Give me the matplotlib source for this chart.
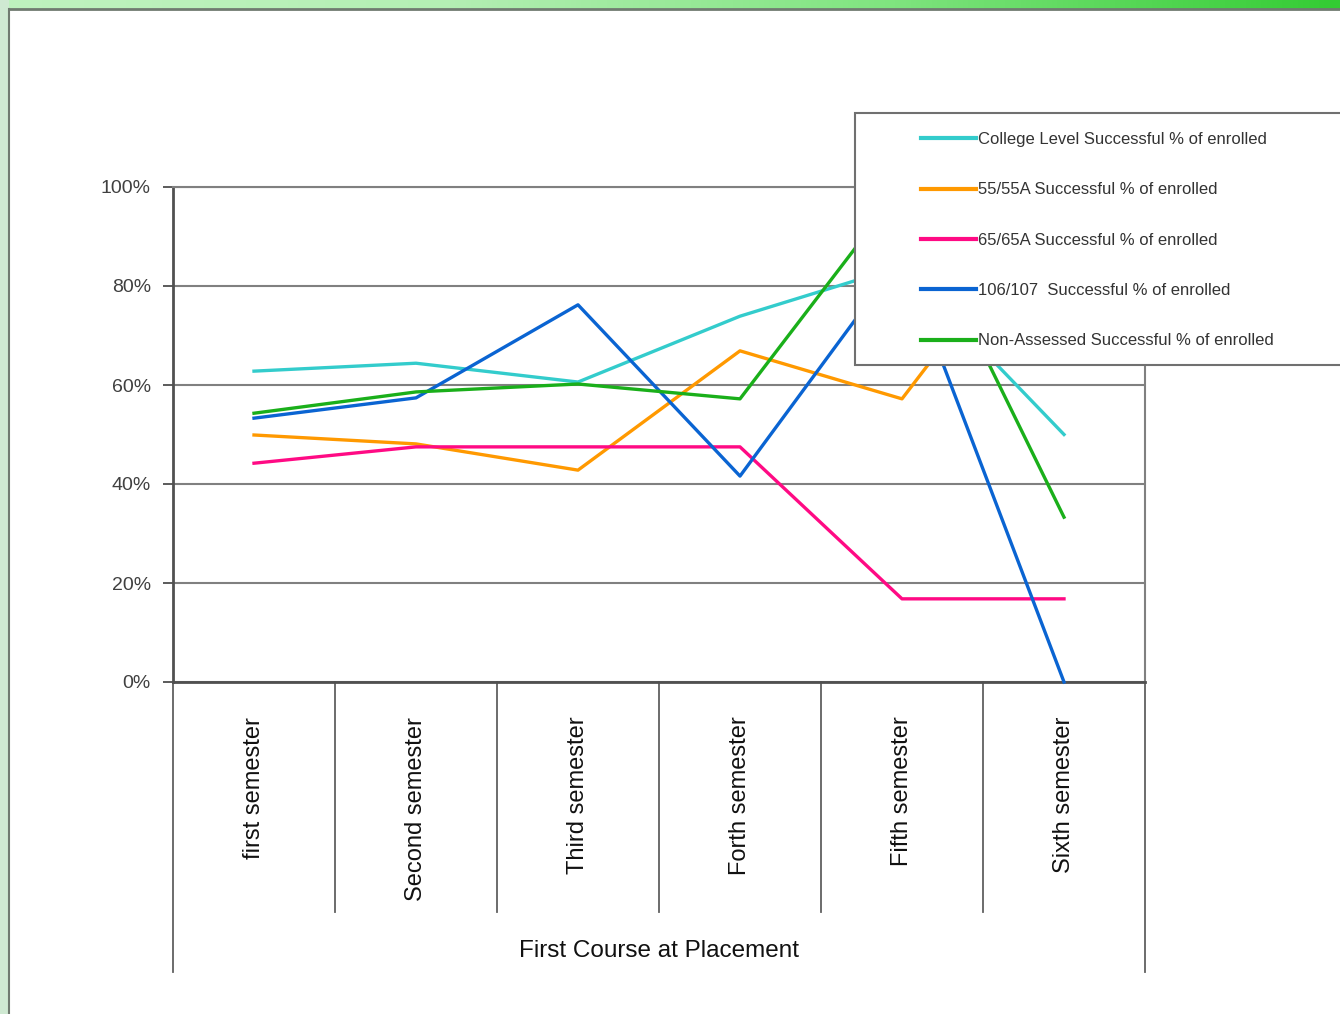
import matplotlib.pyplot as plt
import numpy as np
from matplotlib.patches import Rectangle
from matplotlib.lines import Line2D
from matplotlib.colors import LinearSegmentedColormap

plt.rcParams['font.family'] = ['Liberation Sans', 'DejaVu Sans']

semesters = ["first semester", "Second semester", "Third semester",
             "Forth semester", "Fifth semester", "Sixth semester"]
series_names = ["College Level Successful % of enrolled",
                "55/55A Successful % of enrolled",
                "65/65A Successful % of enrolled",
                "106/107  Successful % of enrolled",
                "Non-Assessed Successful % of enrolled"]

college_level = [62.8, 64.4, 60.6, 73.9, 84.0, 50.0]
s55 = [49.9, 48.1, 42.8, 66.9, 57.2, 100.0]
s65 = [44.2, 47.5, 47.5, 47.5, 16.8, 16.8]
s106 = [53.3, 57.4, 76.2, 41.6, 86.0, 0.0]
non_assessed = [54.3, 58.6, 60.2, 57.2, 100.0, 33.3]

colors = ["#33CCCC", "#FF9900", "#FF0A84", "#0A64D2", "#1AAF1A"]
yticks = [0, 20, 40, 60, 80, 100]

W, H = 1340, 1014
fig = plt.figure(figsize=(W / 100, H / 100), dpi=100)

# slide-like green frame at top and left
bg = fig.add_axes([0, 0, 1, 1], zorder=-10)
bg.set_xlim(0, W)
bg.set_ylim(H, 0)
bg.axis("off")
grad = np.linspace(0, 1, 256).reshape(1, -1)
gcmap = LinearSegmentedColormap.from_list("g", ["#bff2bf", "#b4efb4", "#7fe47f", "#33cc33"])
bg.imshow(grad, cmap=gcmap, extent=[0, W, 9, 0], aspect="auto")
bg.add_patch(Rectangle((0, 0), 9, H, color="#cfe9d2", lw=0))
bg.plot([9, W], [9, 9], color="#707a70", lw=2)
bg.plot([9, 9], [9, H], color="#707a70", lw=1.5)

x = np.arange(len(semesters))
ax = fig.add_axes([173 / W, 1 - 682 / H, 972 / W, 495 / H])
data = [college_level, s55, s65, s106, non_assessed]
for vals, c, name in zip(data, colors, series_names):
    ax.plot(x, vals, color=c, lw=2.4, label=name, clip_on=False, zorder=3)

ax.set_xlim(-0.5, len(semesters) - 0.5)
ax.set_ylim(0, 100)
ax.set_yticks(yticks)
ax.set_yticklabels([f"{v}%" for v in yticks], fontsize=14, color="#404040")
ax.yaxis.grid(True, color="#808080", lw=1.5)
ax.set_axisbelow(True)
ax.tick_params(axis="y", length=7, width=1.2, color="#404040", pad=9)
ax.set_xticks(x)
ax.set_xticklabels(semesters, rotation=90, fontsize=17, color="#111111")
ax.tick_params(axis="x", length=0, pad=25)
for side in ["top", "right"]:
    ax.spines[side].set_color("#808080")
    ax.spines[side].set_linewidth(1.5)
ax.spines["left"].set_color("#505050")
ax.spines["left"].set_linewidth(2)
ax.spines["bottom"].set_color("#505050")
ax.spines["bottom"].set_linewidth(2)

# category dividers below the axis
tr = ax.get_xaxis_transform()
for b in np.arange(0.5, len(semesters) - 1, 1.0):
    ax.plot([b, b], [0, -(912 - 682) / 495], color="#606060", lw=1.3,
            transform=tr, clip_on=False)
for b in [-0.5, len(semesters) - 0.5]:
    ax.plot([b, b], [0, -(972 - 682) / 495], color="#606060", lw=1.3,
            transform=tr, clip_on=False)

ax.text(0.5, -(951 - 682) / 495, "First Course at Placement", transform=ax.transAxes,
        ha="center", va="center", fontsize=17.5, color="#111111")

# legend box
fig.patches.append(Rectangle((855 / W, 1 - 365 / H), 500 / W, 252 / H,
                             transform=fig.transFigure, facecolor="white",
                             edgecolor="#707070", lw=1.5, zorder=4))
handles = [Line2D([], [], color=c, lw=3) for c in colors]
fig.legend(handles, series_names, loc="upper left",
           bbox_to_anchor=(921 / W, 1 - 132 / H), frameon=False,
           fontsize=12, labelcolor="#333333", handlelength=3.3,
           handletextpad=0.15, borderpad=0, borderaxespad=0, labelspacing=2.12)

fig.savefig("out.png", dpi=100)
